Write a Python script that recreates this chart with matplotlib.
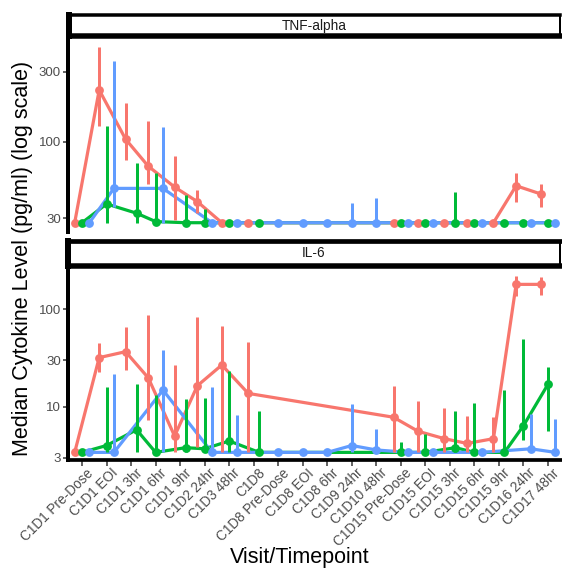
import numpy as np
import matplotlib
matplotlib.use("Agg")
import matplotlib.pyplot as plt
import matplotlib.transforms as mtransforms

nan = np.nan

timepoints = [
    "C1D1 Pre-Dose", "C1D1 EOI", "C1D1 3hr", "C1D1 6hr", "C1D1 9hr",
    "C1D2 24hr", "C1D3 48hr", "C1D8", "C1D8 Pre-Dose", "C1D8 EOI",
    "C1D8 6hr", "C1D9 24hr", "C1D10 48hr", "C1D15 Pre-Dose", "C1D15 EOI",
    "C1D15 3hr", "C1D15 6hr", "C1D15 9hr", "C1D16 24hr", "C1D17 48hr",
]

# TNF-alpha medians and ranges per cohort
tnf_red = [28, 225, 104, 68, 49, 39, 28, 28, nan, nan, nan, nan, nan, 28, 28, 28, 28, 28, 50, 44]
tnf_red_lo = [28, 128, 75, 51.5, 29, 32.5, 28, 28, nan, nan, nan, nan, nan, 28, 28, 28, 28, 28, 39, 36]
tnf_red_hi = [28, 444, 183, 139, 80, 47, 28, 28, nan, nan, nan, nan, nan, 28, 28, 28, 28, 28, 61, 51.5]

tnf_green = [28, 37.6, 32.5, 28.5, 28, 28, 28, 28, nan, nan, nan, nan, nan, 28, 28, 28, 28, 28, 28, 28]
tnf_green_lo = [28, 28, 28, 28, 28, 28, 28, 28, nan, nan, nan, nan, nan, 28, 28, 28, 28, 28, 28, 28]
tnf_green_hi = [28, 128, 71, 61, 43, 34.5, 28, 28, nan, nan, nan, nan, nan, 28, 28, 45, 28, 28, 28, 28]

tnf_blue = [28, 48, nan, 48, nan, 28, 28, nan, 28, 28, 28, 28, 28, 28, 28, nan, 28, nan, 28, 28]
tnf_blue_lo = [28, 36, nan, 28, nan, 28, 28, nan, 28, 28, 28, 28, 28, 28, 28, nan, 28, nan, 28, 28]
tnf_blue_hi = [28, 355, nan, 126, nan, 28, 28, nan, 28, 28, 28, 38, 41, 28, 28, nan, 28, nan, 28, 28]

# IL-6 medians and ranges per cohort
il6_red = [3.4, 31.9, 36.7, 19.8, 5.0, 16.4, 26.8, 13.7, nan, nan, nan, nan, nan, 7.8, 5.6, 4.7, 4.2, 4.7, 180, 180]
il6_red_lo = [3.4, 22.8, 24, 7.3, 3.4, 3.9, 3.4, 3.4, nan, nan, nan, nan, nan, 3.4, 3.4, 3.4, 3.4, 3.4, 137, 140]
il6_red_hi = [3.4, 44.8, 66, 87, 26.8, 84, 67, 46, nan, nan, nan, nan, nan, 16.3, 11.5, 9.8, 8.0, 7.9, 220, 216]

il6_green = [3.4, 4.0, 5.8, 3.4, 3.8, 3.7, 4.45, 3.4, nan, nan, nan, nan, nan, 3.4, 3.4, 3.8, 3.4, 3.4, 6.4, 17]
il6_green_lo = [3.4, 3.4, 3.4, 3.4, 3.4, 3.4, 3.4, 3.4, nan, nan, nan, nan, nan, 3.4, 3.4, 3.4, 3.4, 3.4, 4.55, 5.7]
il6_green_hi = [3.4, 16, 17, 13.2, 12, 12.4, 23, 9, nan, nan, nan, nan, nan, 4.3, 5.2, 9, 10.8, 15, 50, 25.8]

il6_blue = [3.4, 3.4, nan, 14.8, nan, 3.4, 3.4, nan, 3.4, 3.4, 3.4, 4.0, 3.6, 3.4, 3.4, nan, 3.4, nan, 3.7, 3.4]
il6_blue_lo = [3.4, 3.4, nan, 3.4, nan, 3.4, 3.4, nan, 3.4, 3.4, 3.4, 3.4, 3.4, 3.4, 3.4, nan, 3.4, nan, 3.4, 3.4]
il6_blue_hi = [3.4, 21.5, nan, 38, nan, 16, 8.2, nan, 3.4, 3.4, 3.4, 10.6, 5.9, 3.4, 3.4, nan, 3.4, nan, 8.4, 7.4]

colors = ["#F8766D", "#00BA38", "#619CFF"]

panels = [
    ("TNF-alpha",
     [(tnf_red, tnf_red_lo, tnf_red_hi), (tnf_green, tnf_green_lo, tnf_green_hi), (tnf_blue, tnf_blue_lo, tnf_blue_hi)],
     (24.2, 501), [30, 100, 300]),
    ("IL-6",
     [(il6_red, il6_red_lo, il6_red_hi), (il6_green, il6_green_lo, il6_green_hi), (il6_blue, il6_blue_lo, il6_blue_hi)],
     (2.84, 265), [3, 10, 30, 100]),
]

W, H = 562, 571
fig = plt.figure(figsize=(W / 100, H / 100), dpi=100)
plt.rcParams["font.family"] = ["Liberation Sans", "DejaVu Sans"]


def box(l, t, r, b):
    return [l / W, 1 - b / H, (r - l) / W, (b - t) / H]


px = 72 / 100  # points per pixel
dodge_w = 0.9
n = len(timepoints)
xs = np.arange(n)

layout = [
    # panel (left, top, right, bottom), strip (left, top, right, bottom)
    ((68.3, 39, 562, 232), (68.7, 15.0, 560.0, 36.3)),
    ((68.3, 268, 562, 460), (68.0, 240.6, 560.0, 265.7)),
]

for (title, series, ylim, yticks), (pbox, sbox) in zip(panels, layout):
    ax = fig.add_axes(box(*pbox))
    vals = [np.array(s[0], float) for s in series]
    present = np.array([~np.isnan(v) for v in vals])
    # dodge positions: groups present at each x share the dodge width
    pos = np.full((3, n), nan)
    for i in range(n):
        idx = np.where(present[:, i])[0]
        k = len(idx)
        for j, g in enumerate(idx):
            pos[g, i] = i - dodge_w / 2 + dodge_w / (2 * k) + j * dodge_w / k

    for g, (v, lo, hi) in enumerate(series):
        v = np.array(v, float)
        m = ~np.isnan(v)
        ax.plot(pos[g][m], v[m], color=colors[g], lw=3.2 * px, zorder=2,
                solid_capstyle="butt")
    for g, (v, lo, hi) in enumerate(series):
        lo = np.array(lo, float)
        hi = np.array(hi, float)
        m = ~np.isnan(lo)
        ax.vlines(pos[g][m], lo[m], hi[m], color=colors[g], lw=3.0 * px, zorder=3)
    for g, (v, lo, hi) in enumerate(series):
        v = np.array(v, float)
        m = ~np.isnan(v)
        ax.plot(pos[g][m], v[m], "o", color=colors[g], ms=8.8 * px, mew=0, zorder=4)

    ax.set_yscale("log")
    ax.set_ylim(*ylim)
    ax.set_xlim(-0.56, 19.57)
    ax.yaxis.set_major_locator(matplotlib.ticker.FixedLocator(yticks))
    ax.yaxis.set_minor_locator(matplotlib.ticker.NullLocator())
    ax.set_yticklabels([str(t) for t in yticks])
    ax.tick_params(axis="y", length=5.5 * px, width=1.5 * px, color="#333333",
                   labelsize=9.5, labelcolor="#4D4D4D", pad=1.5)
    for s in ["top", "right"]:
        ax.spines[s].set_visible(False)
    ax.spines["left"].set_linewidth(4 * px)
    ax.patch.set_alpha(0)

    if title == "IL-6":
        ax.spines["bottom"].set_linewidth(3.7 * px)
        ax.set_xticks(xs)
        ax.set_xticklabels(timepoints, rotation=45, ha="right", va="top",
                           rotation_mode="anchor")
        ax.tick_params(axis="x", length=5.5 * px, width=1.5 * px, color="#333333",
                       labelsize=9.8, labelcolor="#4D4D4D", pad=2.5)
        shift = mtransforms.ScaledTranslation(4 / 100, 3 / 100, fig.dpi_scale_trans)
        for lab in ax.get_xticklabels():
            lab.set_transform(lab.get_transform() + shift)
    else:
        ax.spines["bottom"].set_visible(False)
        ax.set_xticks([])

    # facet strip
    sax = fig.add_axes(box(*sbox))
    sax.set_xticks([])
    sax.set_yticks([])
    sax.spines["left"].set_linewidth(6 * px)
    sax.spines["bottom"].set_linewidth(5.5 * px)
    sax.spines["top"].set_linewidth((3.5 if title == "TNF-alpha" else 4.7) * px)
    sax.spines["right"].set_linewidth(2 * px)
    sax.text(0.5, 0.5, title, ha="center", va="center", fontsize=9.8,
             color="#1A1A1A", transform=sax.transAxes)

fig.text(23 / W, 1 - 258 / H, "Median Cytokine Level (pg/ml) (log scale)",
         rotation=90, ha="center", va="center", fontsize=15.5)
fig.text(300 / W, 1 - 557 / H, "Visit/Timepoint", ha="center", va="center",
         fontsize=15.5)

fig.savefig("out.png", dpi=100)
